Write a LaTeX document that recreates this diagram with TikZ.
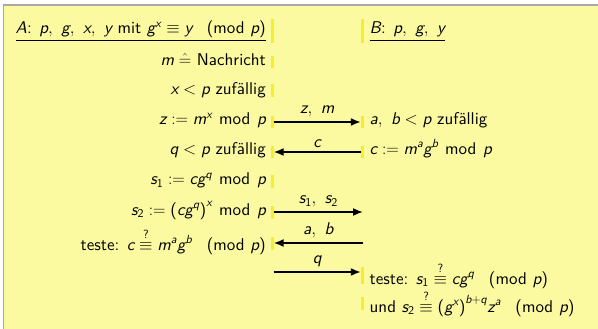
\documentclass[tikz,border=0pt]{standalone}
\usepackage{amsmath}
\usepackage{fontspec}
\newfontfamily\lms[Extension=.otf, UprightFont=*-regular, ItalicFont=*-oblique, SlantedFont=*-oblique, BoldFont=*-bold]{lmsans10}
\usetikzlibrary{arrows.meta}
\definecolor{bgY}{RGB}{252,250,160}
\definecolor{barY}{RGB}{244,238,45}
\definecolor{frameG}{RGB}{168,168,168}
\newcommand\V[1]{\text{\lms\itshape #1}}
\newcommand\T[1]{\text{\lms #1}}
\newcommand\Md{\mkern7mu\T{mod}\mkern7mu}
\newcommand\Pm[1]{\mkern15mu\T{(}\T{mod}\mkern6mu#1\T{)}}
\newcommand\Qe{\mathrel{\stackrel{\T{?}}{\equiv}}}
\newcommand\Cm{,\ }
\tikzset{
  txt/.style={inner sep=0pt, font=\fontsize{17}{20}\selectfont\lms},
  ltxt/.style={txt, anchor=base east},
  rtxt/.style={txt, anchor=base west},
  bar/.style={fill=barY, draw=none, inner sep=0pt, minimum width=3pt},
  msg/.style={line width=1.6pt, -{Latex[length=10pt,width=8pt]}},
  lbl/.style={txt, above, inner sep=0pt, yshift=4pt}
}
\begin{document}
\begin{tikzpicture}[x=1pt,y=-1pt]
\useasboundingbox (0,0) rectangle (598,329);
\fill[bgY] (3.5,5) rectangle (598,329);
\draw[frameG, line width=1.2pt] (3.5,329) -- (3.5,5) -- (598,5);

% left column texts
\node[ltxt] (a1) at (266,34) {\underline{$\V{A}$: $\V{p}\Cm\V{g}\Cm\V{x}\Cm\V{y}$ mit $\V{g}^{\V{x}} \equiv \V{y} \Pm{\V{p}}$}};
\node[ltxt] (a2) at (266,65.5) {$\V{m} \mathrel{\hat{=}}$ Nachricht};
\node[ltxt] (a3) at (266,95) {$\V{x} < \V{p}$ zufällig};
\node[ltxt] (a4) at (266,124.5) {$\V{z} := \V{m}^{\V{x}} \Md \V{p}$};
\node[ltxt] (a5) at (266,154) {$\V{q} < \V{p}$ zufällig};
\node[ltxt] (a6) at (266,185) {$\V{s}_{\T{1}} := \V{c}\V{g}^{\V{q}} \Md \V{p}$};
\node[ltxt] (a7) at (266,215) {$\V{s}_{\T{2}} := \T{(}\V{c}\V{g}^{\V{q}}\T{)}^{\V{x}} \Md \V{p}$};
\node[ltxt] (a8) at (266,250) {teste: $\V{c} \Qe \V{m}^{\V{a}} \V{g}^{\V{b}} \Pm{\V{p}}$};

% right column texts
\node[rtxt] (b1) at (369.5,34) {\underline{$\V{B}$: $\V{p}\Cm\V{g}\Cm\V{y}$}};
\node[rtxt] (b4) at (369.5,124.5) {$\V{a}\Cm\V{b} < \V{p}$ zufällig};
\node[rtxt] (b5) at (369.5,154) {$\V{c} := \V{m}^{\V{a}} \V{g}^{\V{b}} \Md \V{p}$};
\node[rtxt] (b9) at (369.5,284) {teste: $\V{s}_{\T{1}} \Qe \V{c}\V{g}^{\V{q}} \Pm{\V{p}}$};
\node[rtxt] (b10) at (369.5,312) {und $\V{s}_{\T{2}} \Qe \T{(}\V{g}^{\V{x}}\T{)}^{\V{b}+\V{q}} \V{z}^{\V{a}} \Pm{\V{p}}$};

% bars
\node[bar, minimum height=24pt] (l1) at (272,31) {};
\node[bar, minimum height=12pt] (l2) at (272,62) {};
\node[bar, minimum height=13pt] (l3) at (272,90.5) {};
\node[bar, minimum height=12pt] (l4) at (272,122) {};
\node[bar, minimum height=12pt] (l5) at (272,152) {};
\node[bar, minimum height=13pt] (l6) at (272,181.5) {};
\node[bar, minimum height=13pt] (l7) at (272,212) {};
\node[bar, minimum height=13pt] (l8) at (272,243) {};
\node[bar, minimum height=24pt] (r1) at (362.5,31) {};
\node[bar, minimum height=12pt] (r4) at (362.5,122) {};
\node[bar, minimum height=12pt] (r5) at (362.5,152) {};
\node[bar, minimum height=17pt] (r9) at (362.5,275.5) {};
\node[bar, minimum height=13pt] (r10) at (362.5,303.5) {};

\coordinate (e7) at (363,212);
\coordinate (e8) at (363,243);
\coordinate (s9) at (273.5,272);

% messages
\draw[msg] (l4.east) -- node[lbl] {$\V{z}\Cm\V{m}$} (r4.west);
\draw[msg] (r5.west) -- node[lbl] {$\V{c}$} (l5.east);
\draw[msg] (l7.east) -- node[lbl] {$\V{s}_{\T{1}}\Cm\V{s}_{\T{2}}$} (e7);
\draw[msg] (e8) -- node[lbl] {$\V{a}\Cm\V{b}$} (l8.east);
\draw[msg] (s9) -- node[lbl] {$\V{q}$} (s9 -| r9.west);
\end{tikzpicture}
\end{document}
